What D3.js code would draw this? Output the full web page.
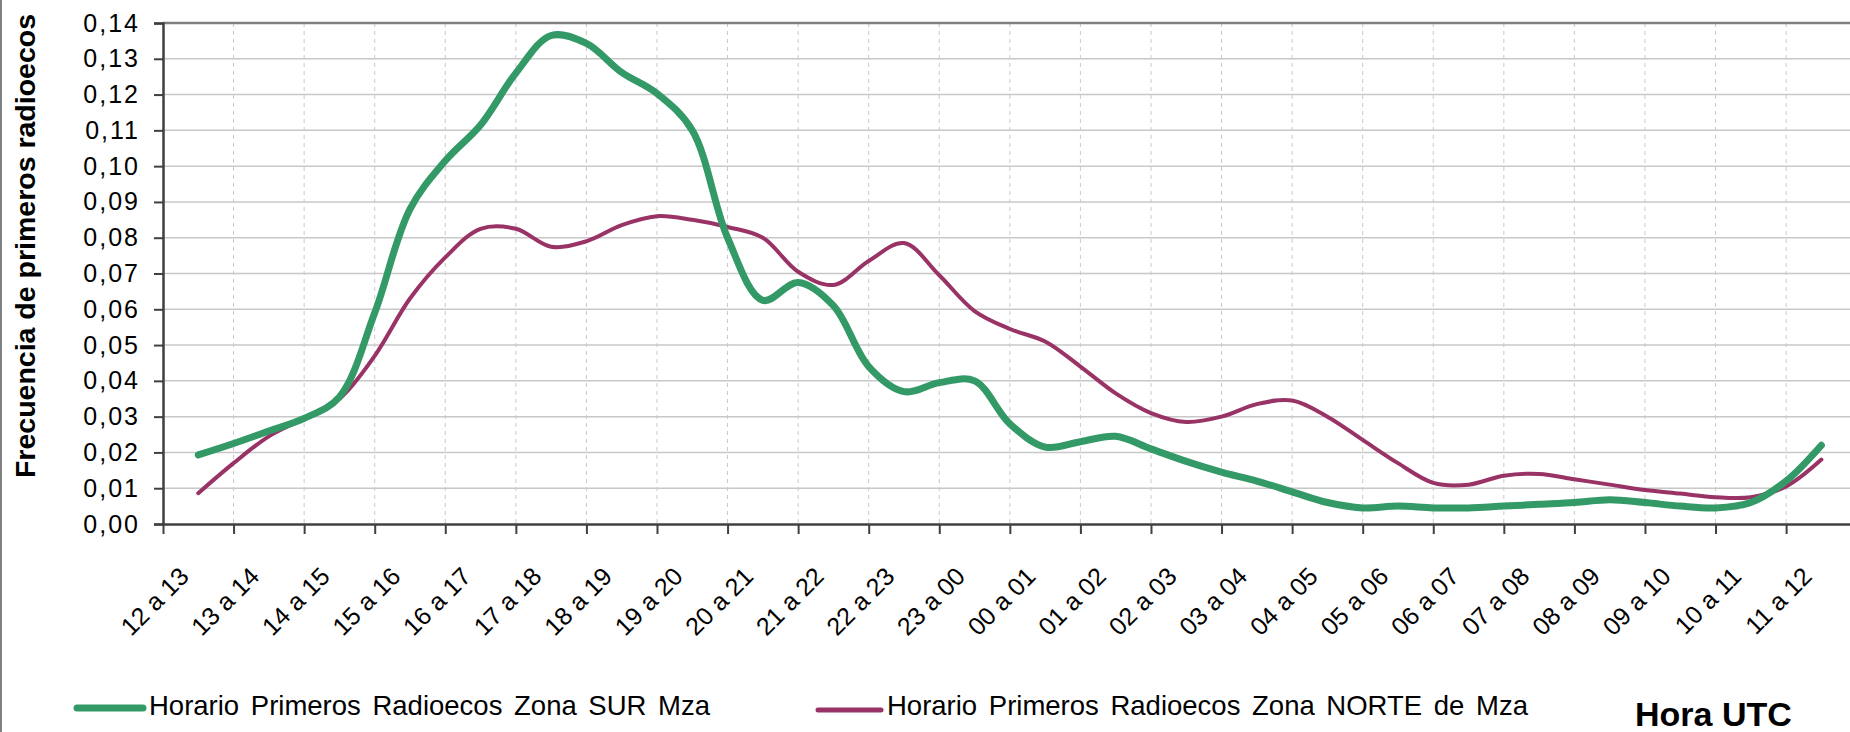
<!DOCTYPE html>
<html>
<head>
<meta charset="utf-8">
<script src="https://cdn.jsdelivr.net/npm/d3@7"></script>
<style>
  html, body { margin: 0; padding: 0; background: #fff; }
  svg { display: block; }
  text { font-family: "Liberation Sans", Arial, sans-serif; fill: #000; }
</style>
</head>
<body>
<div id="chart"></div>
<script>
// categorias (horas UTC)
const categories = ["12 a 13", "13 a 14", "14 a 15", "15 a 16", "16 a 17", "17 a 18",
  "18 a 19", "19 a 20", "20 a 21", "21 a 22", "22 a 23", "23 a 00", "00 a 01", "01 a 02",
  "02 a 03", "03 a 04", "04 a 05", "05 a 06", "06 a 07", "07 a 08", "08 a 09", "09 a 10",
  "10 a 11", "11 a 12"];

// valores cada media hora, desde el centro de "12 a 13" hasta el centro de "11 a 12"
const surValues = [0.0193, 0.0225, 0.0260, 0.0295, 0.0355, 0.0590, 0.0880, 0.1015,
  0.1115, 0.1260, 0.1365, 0.1343, 0.1262, 0.1203, 0.1100, 0.0800, 0.0625, 0.0675,
  0.0610, 0.0440, 0.0370, 0.0395, 0.0400, 0.0280, 0.0215, 0.0230, 0.0245, 0.0210,
  0.0175, 0.0145, 0.0120, 0.0090, 0.0060, 0.0045, 0.0050, 0.0045, 0.0045, 0.0050,
  0.0055, 0.0060, 0.0068, 0.0060, 0.0050, 0.0045, 0.0060, 0.0120, 0.0220];

const norteValues = [0.0086, 0.0170, 0.0245, 0.0295, 0.0350, 0.0470, 0.0630, 0.0745,
  0.0825, 0.0825, 0.0775, 0.0790, 0.0835, 0.0860, 0.0850, 0.0830, 0.0800, 0.0705,
  0.0668, 0.0735, 0.0785, 0.0695, 0.0595, 0.0545, 0.0510, 0.0440, 0.0365, 0.0310,
  0.0285, 0.0300, 0.0335, 0.0345, 0.0300, 0.0235, 0.0170, 0.0115, 0.0110, 0.0135,
  0.0140, 0.0125, 0.0110, 0.0095, 0.0085, 0.0075, 0.0075, 0.0105, 0.0180];

const yTicks = [0, 0.01, 0.02, 0.03, 0.04, 0.05, 0.06, 0.07, 0.08, 0.09, 0.10, 0.11, 0.12, 0.13, 0.14];

const seriesNames = ["Horario Primeros Radioecos Zona SUR Mza",
  "Horario Primeros Radioecos Zona NORTE de Mza"];

const width = 1850, height = 732;
const plotLeft = 163, plotTop = 23, plotBottom = 524;
const step = 70.57;
const plotRight = plotLeft + step * categories.length; // el area de trazado sale del recuadro

const svg = d3.select("#chart").append("svg")
  .attr("width", width)
  .attr("height", height);

// borde izquierdo del grafico
svg.append("line")
  .attr("x1", 1).attr("x2", 1).attr("y1", 0).attr("y2", height)
  .attr("stroke", "#808080").attr("stroke-width", 2);

const y = d3.scaleLinear().domain([0, 0.14]).range([plotBottom, plotTop]);
const xHour = d3.scaleLinear().domain([0, categories.length]).range([plotLeft, plotRight]);
const xBand = d3.scaleBand().domain(categories).range([plotLeft, plotRight]).padding(0);

const comma = d3.formatLocale({ decimal: ",", thousands: ".", grouping: [3], currency: ["", ""] });
const fmt = comma.format(".2f");

// grilla horizontal
svg.append("g")
  .selectAll("line")
  .data(yTicks.slice(1, -1))
  .join("line")
  .attr("x1", plotLeft).attr("x2", width)
  .attr("y1", d => y(d)).attr("y2", d => y(d))
  .attr("stroke", "#c8c8c8").attr("stroke-width", 1.5);

// grilla vertical punteada
svg.append("g")
  .selectAll("line")
  .data(categories.slice(1))
  .join("line")
  .attr("x1", d => xBand(d)).attr("x2", d => xBand(d))
  .attr("y1", plotTop).attr("y2", plotBottom)
  .attr("stroke", "#c8c8c8").attr("stroke-width", 1)
  .attr("stroke-dasharray", "4,4");

// borde superior
svg.append("line")
  .attr("x1", plotLeft).attr("x2", width).attr("y1", plotTop).attr("y2", plotTop)
  .attr("stroke", "#808080").attr("stroke-width", 2.5);

// eje Y
const yAxis = svg.append("g")
  .attr("transform", `translate(${plotLeft},0)`)
  .call(d3.axisLeft(y).tickValues(yTicks).tickSize(9).tickPadding(14).tickFormat(fmt));
yAxis.select(".domain").attr("stroke", "#404040").attr("stroke-width", 2.5);
yAxis.selectAll(".tick line").attr("stroke", "#404040").attr("stroke-width", 2);
yAxis.selectAll(".tick text")
  .style("font-size", "25px")
  .style("letter-spacing", "2px")
  .style("font-family", "'Liberation Sans', Arial, sans-serif")
  .attr("fill", "#000");

// eje X (marcas en los limites de cada categoria)
const xAxis = svg.append("g")
  .attr("transform", `translate(0,${plotBottom})`)
  .call(d3.axisBottom(xHour).tickValues(categories.map((c, i) => i)).tickSize(10).tickSizeOuter(0).tickFormat(""));
xAxis.select(".domain").attr("stroke", "#404040").attr("stroke-width", 2.5);
xAxis.selectAll(".tick line").attr("stroke", "#404040").attr("stroke-width", 2);

svg.append("g")
  .selectAll("text")
  .data(categories)
  .join("text")
  .attr("transform", d => `translate(${xBand(d) + xBand.bandwidth() / 2 - 8},${plotBottom + 54}) rotate(-45)`)
  .attr("text-anchor", "end")
  .style("font-size", "25px")
  .text(d => d);

// lineas
const line = d3.line()
  .x((d, i) => xHour(0.5 + i * 0.5))
  .y(d => y(d))
  .curve(d3.curveCatmullRom.alpha(0.5));

svg.append("path")
  .datum(norteValues)
  .attr("d", line)
  .attr("fill", "none")
  .attr("stroke", "#993366")
  .attr("stroke-width", 4)
  .attr("stroke-linejoin", "round")
  .attr("stroke-linecap", "round");

svg.append("path")
  .datum(surValues)
  .attr("d", line)
  .attr("fill", "none")
  .attr("stroke", "#339966")
  .attr("stroke-width", 7)
  .attr("stroke-linejoin", "round")
  .attr("stroke-linecap", "round");

// titulo eje Y
svg.append("text")
  .attr("transform", "translate(35,246) rotate(-90)")
  .attr("text-anchor", "middle")
  .style("font-size", "28.5px")
  .style("font-weight", "bold")
  .text("Frecuencia de primeros radioecos");

// leyenda
const legend = [
  { name: seriesNames[0], color: "#339966", w: 7, x1: 77, x2: 143, ly: 708, tx: 149 },
  { name: seriesNames[1], color: "#993366", w: 5, x1: 818, x2: 881, ly: 710, tx: 887 }
];
const lg = svg.append("g").selectAll("g").data(legend).join("g");
lg.append("line")
  .attr("x1", d => d.x1).attr("x2", d => d.x2)
  .attr("y1", d => d.ly).attr("y2", d => d.ly)
  .attr("stroke", d => d.color).attr("stroke-width", d => d.w)
  .attr("stroke-linecap", "round");
lg.append("text")
  .attr("x", d => d.tx).attr("y", 715)
  .style("font-size", "27.5px")
  .style("word-spacing", "4px")
  .text(d => d.name);

// titulo eje X
svg.append("text")
  .attr("x", 1635).attr("y", 726)
  .style("font-size", "34px")
  .style("font-weight", "bold")
  .text("Hora UTC");
</script>
</body>
</html>
